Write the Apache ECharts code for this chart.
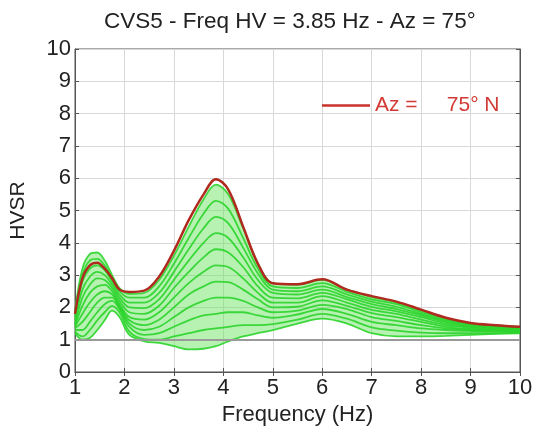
<!DOCTYPE html>
<html>
<head>
<meta charset="utf-8">
<script src="https://cdn.jsdelivr.net/npm/echarts@6/dist/echarts.min.js"></script>
<style>html,body{margin:0;padding:0;background:#fff}#c{width:539px;height:439px}</style>
</head>
<body>
<div id="c"></div>
<script>
// Frequency samples (Hz)
const freq = [1, 1.15, 1.3, 1.45, 1.6, 1.75, 1.9, 2.1, 2.4, 2.7, 3.0, 3.3, 3.6, 3.85, 4.1, 4.4, 4.7, 5.0, 5.5, 6.0, 6.5, 7.0, 7.5, 8.0, 8.5, 9.0, 9.5, 10];
// HVSR at Az = 75° N (highlighted)
const hvAz75 = [1.8, 2.9, 3.3, 3.38, 3.2, 2.9, 2.55, 2.48, 2.52, 2.95, 3.75, 4.7, 5.5, 5.97, 5.65, 4.5, 3.35, 2.75, 2.72, 2.87, 2.55, 2.35, 2.18, 1.93, 1.68, 1.52, 1.45, 1.4];
// HVSR at the other azimuths
const hvG1  = [1.9, 3.2, 3.65, 3.7, 3.45, 3.0, 2.6, 2.42, 2.45, 2.85, 3.6, 4.5, 5.35, 5.8, 5.5, 4.45, 3.35, 2.75, 2.7, 2.85, 2.55, 2.32, 2.15, 1.9, 1.66, 1.5, 1.44, 1.4];
const hvG2  = [1.8, 3.0, 3.45, 3.5, 3.3, 2.9, 2.5, 2.3, 2.3, 2.65, 3.35, 4.15, 4.9, 5.3, 5.05, 4.15, 3.2, 2.65, 2.6, 2.75, 2.48, 2.25, 2.1, 1.85, 1.62, 1.48, 1.42, 1.38];
const hvG3  = [1.7, 2.8, 3.2, 3.3, 3.15, 2.8, 2.4, 2.15, 2.15, 2.45, 3.1, 3.8, 4.45, 4.8, 4.6, 3.85, 3.05, 2.55, 2.5, 2.65, 2.4, 2.18, 2.02, 1.8, 1.58, 1.45, 1.4, 1.36];
const hvG4  = [1.6, 2.55, 2.95, 3.1, 3.0, 2.7, 2.3, 2.0, 1.98, 2.25, 2.85, 3.45, 4.0, 4.3, 4.15, 3.55, 2.85, 2.45, 2.4, 2.55, 2.32, 2.1, 1.95, 1.75, 1.55, 1.42, 1.38, 1.34];
const hvG5  = [1.5, 2.3, 2.7, 2.9, 2.85, 2.6, 2.2, 1.85, 1.8, 2.05, 2.6, 3.1, 3.55, 3.8, 3.7, 3.25, 2.65, 2.3, 2.28, 2.45, 2.25, 2.02, 1.88, 1.7, 1.5, 1.4, 1.35, 1.32];
const hvG6  = [1.45, 2.05, 2.45, 2.65, 2.7, 2.5, 2.1, 1.7, 1.62, 1.85, 2.3, 2.75, 3.1, 3.3, 3.25, 2.9, 2.45, 2.15, 2.15, 2.35, 2.15, 1.92, 1.8, 1.62, 1.45, 1.37, 1.33, 1.3];
const hvG7  = [1.4, 1.8, 2.15, 2.4, 2.5, 2.4, 2.05, 1.6, 1.45, 1.62, 2.0, 2.4, 2.65, 2.8, 2.78, 2.55, 2.25, 2.0, 2.02, 2.22, 2.05, 1.82, 1.7, 1.55, 1.4, 1.33, 1.3, 1.28];
const hvG8  = [1.35, 1.55, 1.85, 2.15, 2.3, 2.3, 2.0, 1.5, 1.3, 1.4, 1.7, 2.0, 2.2, 2.3, 2.3, 2.2, 2.0, 1.85, 1.9, 2.08, 1.95, 1.7, 1.58, 1.45, 1.35, 1.3, 1.28, 1.26];
const hvG9  = [1.3, 1.3, 1.55, 1.85, 2.1, 2.2, 1.95, 1.4, 1.15, 1.2, 1.4, 1.6, 1.75, 1.8, 1.85, 1.85, 1.75, 1.68, 1.78, 1.95, 1.8, 1.55, 1.45, 1.35, 1.3, 1.27, 1.25, 1.24];
const hvG10 = [1.25, 1.1, 1.3, 1.6, 1.85, 2.05, 1.85, 1.25, 1.02, 1.0, 1.1, 1.2, 1.3, 1.35, 1.4, 1.45, 1.45, 1.48, 1.62, 1.8, 1.65, 1.38, 1.28, 1.22, 1.2, 1.2, 1.2, 1.22];
const hvG11 = [1.2, 1.0, 1.05, 1.3, 1.6, 1.9, 1.7, 1.15, 0.95, 0.9, 0.8, 0.7, 0.72, 0.8, 0.95, 1.1, 1.2, 1.3, 1.5, 1.65, 1.5, 1.2, 1.1, 1.1, 1.12, 1.15, 1.18, 1.2];
const refLevel = 1;
const xTicks = [1, 2, 3, 4, 5, 6, 7, 8, 9, 10];
const titleText = 'CVS5 - Freq HV = 3.85 Hz - Az = 75°';
const legendText = 'Az =     75° N';

const greenSets = [hvG11, hvG10, hvG9, hvG8, hvG7, hvG6, hvG5, hvG4, hvG3, hvG2, hvG1];
const pairs = arr => freq.map((f, i) => [f, arr[i]]);
const FONT = 'Liberation Sans';
const SMOOTH = 0.35;

const series = [];
// light green band between the lowest and highest azimuth curves
series.push({
  type: 'custom', name: 'band', silent: true, z: 1, clip: true,
  data: [0],
  renderItem: function (params, api) {
    const pts = [];
    freq.forEach((f, i) => pts.push(api.coord([f, hvG1[i]])));
    for (let i = freq.length - 1; i >= 0; i--) pts.push(api.coord([freq[i], hvG11[i]]));
    return { type: 'polygon', shape: { points: pts, smooth: 0.25 },
      style: { fill: 'rgba(105,228,95,0.48)', stroke: null } };
  }
});
greenSets.forEach((arr, k) => series.push({
  type: 'line', name: 'g' + k, data: pairs(arr), smooth: SMOOTH, showSymbol: false,
  lineStyle: { color: '#2cd42c', width: 1.8, opacity: 0.9 }, z: 2, silent: true
}));
series.push({
  type: 'line', name: legendText, data: pairs(hvAz75), smooth: SMOOTH, showSymbol: false,
  lineStyle: { color: '#b02a20', width: 2.5 }, itemStyle: { color: '#c8322b' }, z: 5,
  markLine: { silent: true, symbol: 'none', label: { show: false },
    lineStyle: { color: '#9a9a9a', width: 2, type: 'solid' }, data: [{ yAxis: refLevel }] }
});

const chart = echarts.init(document.getElementById('c'));
chart.setOption({
  animation: false,
  backgroundColor: '#fff',
  title: { text: titleText, left: 99, top: 5,
    textStyle: { fontFamily: FONT, fontSize: 22.5, fontWeight: 'normal', color: '#222' } },
  legend: { data: [legendText], left: 317, top: 90, icon: 'rect', itemWidth: 48, itemHeight: 2.5, itemGap: 4,
    textStyle: { fontFamily: FONT, fontSize: 21, color: '#d23a35' } },
  grid: { left: 74, right: 19, top: 49, bottom: 67, show: true, borderColor: '#555', borderWidth: 1 },
  xAxis: [{
    type: 'value', min: xTicks[0], max: xTicks[xTicks.length - 1], interval: 1,
    name: 'Frequency (Hz)', nameLocation: 'middle', nameGap: 29,
    nameTextStyle: { fontFamily: FONT, fontSize: 22, color: '#222' },
    axisLine: { lineStyle: { color: '#555' } },
    axisTick: { inside: true, length: 4, lineStyle: { color: '#555' } },
    axisLabel: { fontFamily: FONT, fontSize: 22, color: '#222', margin: 5 },
    splitLine: { show: true, lineStyle: { color: '#d8d8d8', width: 1 } }
  }, {
    type: 'value', position: 'top', min: xTicks[0], max: xTicks[xTicks.length - 1], interval: 1,
    axisLine: { lineStyle: { color: '#555' } }, axisTick: { inside: true, length: 4, lineStyle: { color: '#555' } },
    axisLabel: { show: false }, splitLine: { show: false }
  }],
  yAxis: [{
    type: 'value', min: 0, max: 10, interval: 1,
    name: 'HVSR', nameLocation: 'middle', nameGap: 46, nameRotate: 90,
    nameTextStyle: { fontFamily: FONT, fontSize: 21, color: '#222' },
    axisLine: { show: true, lineStyle: { color: '#555' } },
    axisTick: { show: true, inside: true, length: 4, lineStyle: { color: '#555' } },
    axisLabel: { fontFamily: FONT, fontSize: 22, color: '#222', margin: 4 },
    splitLine: { show: true, lineStyle: { color: '#d8d8d8', width: 1 } }
  }, {
    type: 'value', position: 'right', min: 0, max: 10, interval: 1,
    axisLine: { show: true, lineStyle: { color: '#555' } },
    axisTick: { show: true, inside: true, length: 4, lineStyle: { color: '#555' } },
    axisLabel: { show: false }, splitLine: { show: false }
  }],
  series: series
});
</script>
</body>
</html>
